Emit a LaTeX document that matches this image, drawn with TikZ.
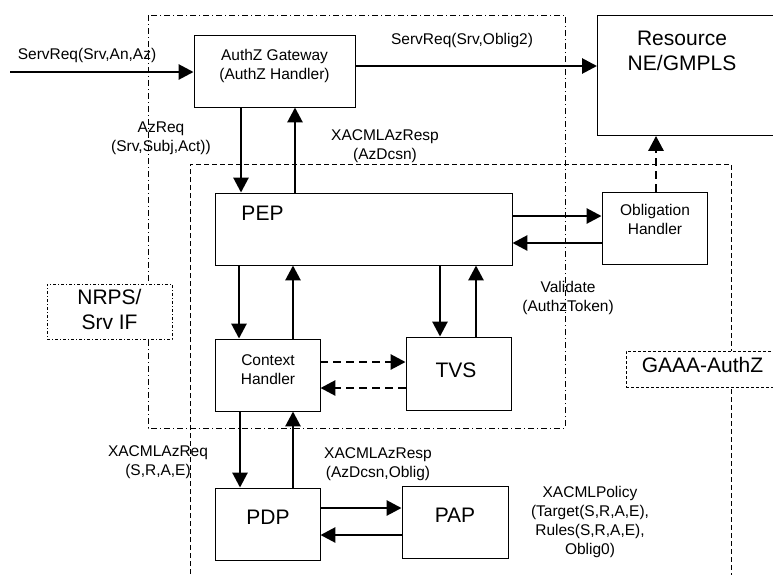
\documentclass[tikz,border=0pt]{standalone}
\usepackage{fontspec}
\setmainfont{Liberation Sans}
\usetikzlibrary{arrows.meta}
\begin{document}
\begin{tikzpicture}[x=1pt,y=-1pt,
 box/.style={draw, line width=0.9pt, fill=white, inner sep=0pt},
 sm/.style={font=\fontsize{15.5}{19}\selectfont, align=center, inner sep=0pt},
 big/.style={font=\fontsize{21}{25}\selectfont, align=center, inner sep=0pt},
 arr/.style={line width=2.8pt, -{Triangle[length=15pt,width=15pt]}},
 darr/.style={arr, dash pattern=on 8pt off 5pt},
 dashdot/.style={line width=0.8pt, dash pattern=on 6pt off 3pt on 1pt off 3pt},
 dashreg/.style={line width=0.8pt, dash pattern=on 5pt off 3pt}]
\useasboundingbox (0,0) rectangle (773,574);

% regions
\draw[dashdot] (148,15) rectangle (565,428);
\draw[dashreg] (190,590) -- (190,164) -- (731,164) -- (731,590);

% region labels
\node[box, big, line width=0.7pt, dash pattern=on 3pt off 2pt on 1pt off 2pt,
      minimum width=125pt, minimum height=55pt] (nrps) at (109.5,311.5) {};
\node[big] (nrpst) at (109.5,309.5) {NRPS/\\Srv IF};
\node[box, line width=0.7pt, dash pattern=on 3pt off 2pt,
      minimum width=152pt, minimum height=36pt] (gaaa) at (702,369) {};
\node[big] (gaaat) at (702.5,364.5) {GAAA-AuthZ};

% boxes
\node[box, minimum width=161pt, minimum height=72pt] (gw) at (274.5,71) {};
\node[sm] (gwt) at (274.5,66) {AuthZ Gateway\\(AuthZ Handler)};
\node[box, minimum width=200pt, minimum height=120pt, anchor=north west] (res) at (597,15) {};
\node[big] (rest) at (682,51) {Resource\\NE/GMPLS};
\node[box, minimum width=297pt, minimum height=72pt] (pep) at (363.5,229) {};
\node[big] (pept) at (262.5,213) {PEP};
\node[box, minimum width=105pt, minimum height=72pt] (obl) at (654.5,228) {};
\node[sm] (oblt) at (655,219) {Obligation\\Handler};
\node[box, minimum width=105pt, minimum height=72pt] (ctx) at (267.5,375) {};
\node[sm] (ctxt) at (268,370) {Context\\Handler};
\node[box, minimum width=105pt, minimum height=73pt] (tvs) at (458.5,373.5) {};
\node[big] (tvst) at (456,370) {TVS};
\node[box, minimum width=105pt, minimum height=72pt] (pdp) at (267.5,524) {};
\node[big] (pdpt) at (268,517.5) {PDP};
\node[box, minimum width=106pt, minimum height=72pt] (pap) at (455,522) {};
\node[big] (papt) at (455,515.5) {PAP};

% helper coordinates
\coordinate (in) at (10,72);
\coordinate (xa) at (241,0);
\coordinate (xb) at (295,0);
\coordinate (xc) at (239,0);
\coordinate (xd) at (293,0);
\coordinate (xe) at (440,0);
\coordinate (xf) at (476,0);
\coordinate (xg) at (240,0);
\coordinate (xh) at (656,0);
\coordinate (ya) at (0,216);
\coordinate (yb) at (0,243);
\coordinate (yc) at (0,362);
\coordinate (yd) at (0,388);
\coordinate (ye) at (0,508);
\coordinate (yf) at (0,535);
\coordinate (yg) at (0,66);
\coordinate (yi) at (0,72);

% connectors
\draw[arr] (in) -- (gw.west |- yi);
\draw[arr] (gw.east |- yg) -- (res.west |- yg);
\draw[arr] (gw.south -| xa) -- (pep.north -| xa);
\draw[arr] (pep.north -| xb) -- (gw.south -| xb);
\draw[arr] (pep.east |- ya) -- (obl.west |- ya);
\draw[arr] (obl.west |- yb) -- (pep.east |- yb);
\draw[darr] (obl.north -| xh) -- (res.south -| xh);
\draw[arr] (pep.south -| xc) -- (ctx.north -| xc);
\draw[arr] (ctx.north -| xd) -- (pep.south -| xd);
\draw[arr] (pep.south -| xe) -- (tvs.north -| xe);
\draw[arr] (tvs.north -| xf) -- (pep.south -| xf);
\draw[darr] (ctx.east |- yc) -- (tvs.west |- yc);
\draw[darr] (tvs.west |- yd) -- (ctx.east |- yd);
\draw[arr] (ctx.south -| xg) -- (pdp.north -| xg);
\draw[arr] (pdp.north -| xd) -- (ctx.south -| xd);
\draw[arr] (pdp.east |- ye) -- (pap.west |- ye);
\draw[arr] (pap.west |- yf) -- (pdp.east |- yf);

% labels
\node[sm] (l1) at (87,55) {ServReq(Srv,An,Az)};
\node[sm] (l2) at (462,40) {ServReq(Srv,Oblig2)};
\node[sm] (l3) at (161,138) {AzReq\\(Srv,Subj,Act))};
\node[sm] (l4) at (385,146) {XACMLAzResp\\(AzDcsn)};
\node[sm] (l5) at (568,298) {Validate\\(AuthzToken)};
\node[sm] (l6) at (158,462) {XACMLAzReq\\(S,R,A,E)};
\node[sm] (l7) at (378,464) {XACMLAzResp\\(AzDcsn,Oblig)};
\node[sm] (l8) at (590,522) {XACMLPolicy\\(Target(S,R,A,E),\\Rules(S,R,A,E),\\Oblig0)};
\end{tikzpicture}
\end{document}
